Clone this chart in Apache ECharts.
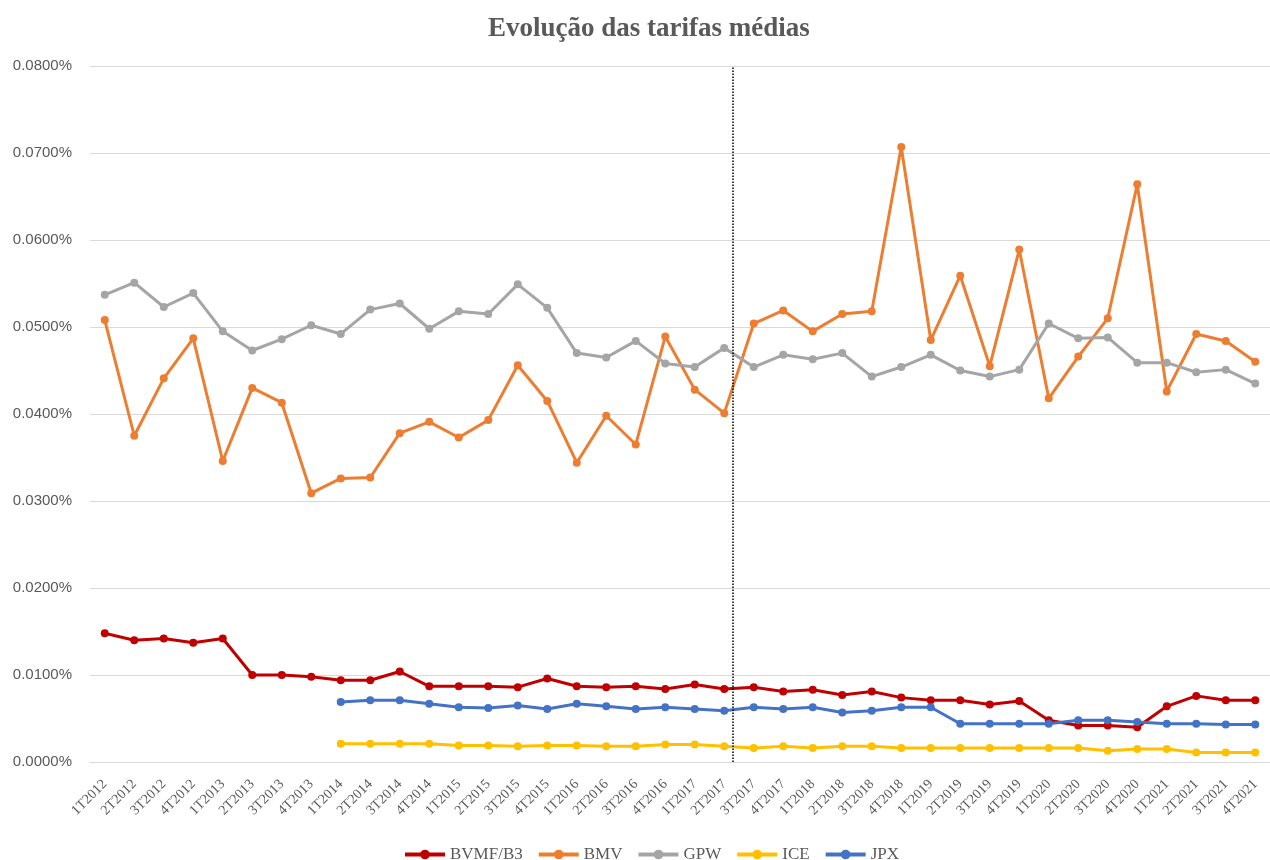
<!DOCTYPE html>
<html>
<head>
<meta charset="utf-8">
<title>Evolução das tarifas médias</title>
<script src="https://cdn.jsdelivr.net/npm/echarts@6/dist/echarts.min.js"></script>
<style>
  html, body { margin: 0; padding: 0; background: #fff; }
  #chart { width: 1270px; height: 860px; }
</style>
</head>
<body>
<div id="chart"></div>
<script>
const trimestres = [
  '1T2012', '2T2012', '3T2012', '4T2012', '1T2013', '2T2013', '3T2013', '4T2013',
  '1T2014', '2T2014', '3T2014', '4T2014', '1T2015', '2T2015', '3T2015', '4T2015',
  '1T2016', '2T2016', '3T2016', '4T2016', '1T2017', '2T2017', '3T2017', '4T2017',
  '1T2018', '2T2018', '3T2018', '4T2018', '1T2019', '2T2019', '3T2019', '4T2019',
  '1T2020', '2T2020', '3T2020', '4T2020', '1T2021', '2T2021', '3T2021', '4T2021'
]

// tarifas em %
const bvmf = [
  0.0148, 0.0140, 0.0142, 0.0137, 0.0142, 0.0100, 0.0100, 0.0098, 0.0094, 0.0094,
  0.0104, 0.0087, 0.0087, 0.0087, 0.0086, 0.0096, 0.0087, 0.0086, 0.0087, 0.0084,
  0.0089, 0.0084, 0.0086, 0.0081, 0.0083, 0.0077, 0.0081, 0.0074, 0.0071, 0.0071,
  0.0066, 0.0070, 0.0048, 0.0042, 0.0042, 0.0040, 0.0064, 0.0076, 0.0071, 0.0071
]
const bmv = [
  0.0508, 0.0375, 0.0441, 0.0487, 0.0346, 0.0430, 0.0413, 0.0309, 0.0326, 0.0327,
  0.0378, 0.0391, 0.0373, 0.0393, 0.0456, 0.0415, 0.0344, 0.0398, 0.0365, 0.0489,
  0.0428, 0.0401, 0.0504, 0.0519, 0.0495, 0.0515, 0.0518, 0.0707, 0.0485, 0.0559,
  0.0455, 0.0589, 0.0418, 0.0466, 0.0510, 0.0664, 0.0426, 0.0492, 0.0484, 0.0460
]
const gpw = [
  0.0537, 0.0551, 0.0523, 0.0539, 0.0495, 0.0473, 0.0486, 0.0502, 0.0492, 0.0520,
  0.0527, 0.0498, 0.0518, 0.0515, 0.0549, 0.0522, 0.0470, 0.0465, 0.0484, 0.0458,
  0.0454, 0.0476, 0.0454, 0.0468, 0.0463, 0.0470, 0.0443, 0.0454, 0.0468, 0.0450,
  0.0443, 0.0451, 0.0504, 0.0487, 0.0488, 0.0459, 0.0459, 0.0448, 0.0451, 0.0435
]
const ice = [
  null, null, null, null, null, null, null, null, 0.0021, 0.0021,
  0.0021, 0.0021, 0.0019, 0.0019, 0.0018, 0.0019, 0.0019, 0.0018, 0.0018, 0.0020,
  0.0020, 0.0018, 0.0016, 0.0018, 0.0016, 0.0018, 0.0018, 0.0016, 0.0016, 0.0016,
  0.0016, 0.0016, 0.0016, 0.0016, 0.0013, 0.0015, 0.0015, 0.0011, 0.0011, 0.0011
]
const jpx = [
  null, null, null, null, null, null, null, null, 0.0069, 0.0071,
  0.0071, 0.0067, 0.0063, 0.0062, 0.0065, 0.0061, 0.0067, 0.0064, 0.0061, 0.0063,
  0.0061, 0.0059, 0.0063, 0.0061, 0.0063, 0.0057, 0.0059, 0.0063, 0.0063, 0.0044,
  0.0044, 0.0044, 0.0044, 0.0048, 0.0048, 0.0046, 0.0044, 0.0044, 0.0043, 0.0043
]

const nomes = ['BVMF/B3', 'BMV', 'GPW', 'ICE', 'JPX']
const cores = ['#C00000', '#ED7D31', '#A5A5A5', '#FFC000', '#4472C4']
const valores = [bvmf, bmv, gpw, ice, jpx]

// linha pontilhada entre 2T2017 e 3T2017 (em unidades do eixo auxiliar)
const divisao = 21.8

const cinza = '#595959'
const serif = '"Liberation Serif", "Times New Roman", serif'

function serie(i) {
  return {
    name: nomes[i],
    type: 'line',
    data: valores[i],
    symbol: 'circle',
    symbolSize: 8,
    lineStyle: { width: 3, color: cores[i] },
    itemStyle: { color: cores[i] },
    connectNulls: false,
    z: 3,
  }
}

const chart = echarts.init(document.getElementById('chart'))

const option = {
  animation: false,
  backgroundColor: '#fff',
  title: {
    text: 'Evolução das tarifas médias',
    left: 483,
    top: 11,
    textStyle: { fontFamily: serif, fontSize: 27, fontWeight: 'bold', color: cinza },
  },
  legend: {
    data: nomes,
    top: 841,
    left: 398,
    itemWidth: 40,
    itemHeight: 12,
    itemGap: 14,
    lineStyle: { width: 4 },
    textStyle: { fontFamily: serif, fontSize: 17, color: cinza },
  },
  grid: { left: 90, right: -5, top: 66, bottom: 98, containLabel: false },
  xAxis: [
    {
      type: 'category',
      data: trimestres,
      boundaryGap: true,
      axisLine: { lineStyle: { color: '#d9d9d9' } },
      axisTick: { show: false },
      axisLabel: {
        rotate: 45,
        interval: 0,
        margin: 20,
        fontFamily: serif,
        fontSize: 14,
        color: cinza,
      },
    },
    {
      type: 'value',
      min: 0,
      max: 40,
      show: false,
    },
  ],
  yAxis: {
    type: 'value',
    min: 0,
    max: 0.08,
    interval: 0.01,
    axisLine: { show: false },
    axisTick: { show: false },
    splitLine: { lineStyle: { color: '#d9d9d9', width: 1 } },
    axisLabel: {
      formatter: (v) => v.toFixed(4) + '%',
      fontFamily: '"Liberation Sans", Arial, sans-serif',
      fontSize: 15,
      color: cinza,
      margin: 18,
    },
  },
  series: [
    ...nomes.map((_, i) => serie(i)),
    {
      name: 'divisao',
      type: 'line',
      xAxisIndex: 1,
      data: [],
      silent: true,
      markLine: {
        silent: true,
        symbol: 'none',
        label: { show: false },
        lineStyle: { type: 'dotted', color: '#000', width: 1.5 },
        data: [{ xAxis: divisao }],
      },
    },
  ],
}

chart.setOption(option)
</script>
</body>
</html>
